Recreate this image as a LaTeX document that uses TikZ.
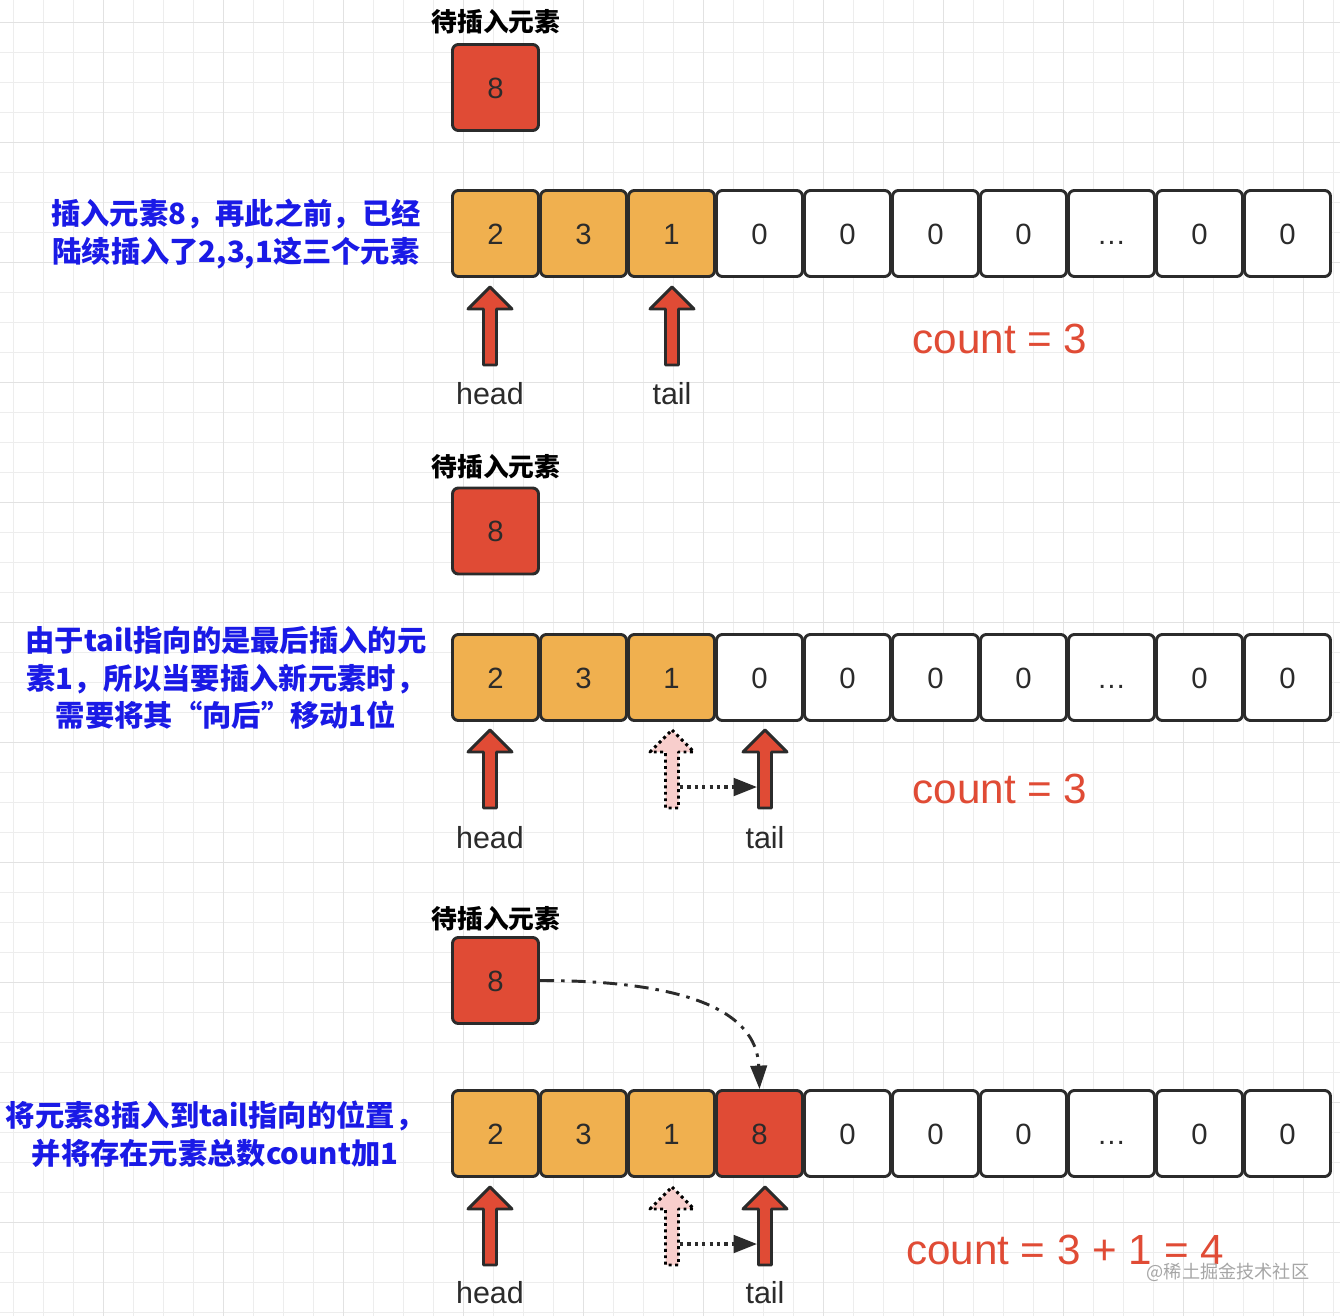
\documentclass[tikz,border=0pt]{standalone}
\usepackage{fontspec}
\setmainfont{Liberation Sans}
\newfontfamily\cjk{Noto Sans CJK SC}
\usetikzlibrary{arrows.meta}
\definecolor{cellred}{HTML}{E04B35}
\definecolor{cellorange}{HTML}{F0B04F}
\definecolor{linedark}{HTML}{2B2B2B}
\definecolor{noteblue}{HTML}{1A1AE6}
\definecolor{ghostpink}{HTML}{F8CECC}
\definecolor{gridgray}{HTML}{EDEDED}
\definecolor{gridmajor}{HTML}{E2E2E2}

\tikzset{
  cell/.style={draw=linedark,line width=2.5pt,rounded corners=5pt,minimum width=2.58cm,
    minimum height=2.58cm,inner sep=0pt,text=linedark,text height=18pt,text depth=0pt,
    font=\fontsize{25}{30}\selectfont},
  used/.style={cell,fill=cellorange},
  hot/.style={cell,fill=cellred},
  free/.style={cell,fill=white},
  tag/.style={font=\cjk\bfseries\fontsize{22}{26}\selectfont,text=black},
  note/.style={align=center,text=noteblue,font=\cjk\bfseries\fontsize{25}{32}\selectfont},
  ptrtxt/.style={text=linedark,font=\fontsize{26}{30}\selectfont},
  cnt/.style={text=cellred,font=\fontsize{36}{42}\selectfont},
  wmark/.style={text=black!35,font=\cjk\fontsize{15.5}{18}\selectfont},
  ptrfill/.style={fill=cellred,draw=linedark},
  ghostfill/.style={fill=ghostpink,draw=black,dash pattern=on 2.5pt off 3pt},
  dotline/.style={line width=2.8pt,draw=linedark,dash pattern=on 2.8pt off 3.5pt,
    -{Triangle[length=20pt,width=15pt]}},
  dashdot/.style={line width=2.5pt,draw=linedark,dash pattern=on 12pt off 6pt on 3pt off 6pt,
    -{Triangle[length=20pt,width=14pt]}},
  ptr/.pic={
    \draw[line width=2.5pt,line join=round,pic actions]
      (0,0) -- (22,22) -- (6.5,22) -- (6.5,78) -- (-6.5,78) -- (-6.5,22) -- (-22,22) -- cycle;
    \coordinate (-r) at (8,57);
    \coordinate (-l) at (-8,57);
  }
}

\begin{document}
\begin{tikzpicture}[x=0.03cm,y=-0.03cm]
  \useasboundingbox (0,0) rectangle (1340,1316);
  \fill[white] (0,0) rectangle (1340,1316);
  % background grid
  \foreach \k in {0,...,44} \draw[gridgray,line width=1pt] ({13.3+30*\k},0) -- ({13.3+30*\k},1316);
  \foreach \k in {0,...,43} \draw[gridgray,line width=1pt] (0,{22.7+30*\k}) -- (1340,{22.7+30*\k});
  \foreach \k in {0,...,10} \draw[gridmajor,line width=1.2pt] ({103.3+120*\k},0) -- ({103.3+120*\k},1316);
  \foreach \k in {0,...,10} \draw[gridmajor,line width=1.2pt] (0,{22.7+120*\k}) -- (1340,{22.7+120*\k});

  % step 1
  \node[tag] (lab1) at (496,22) {待插入元素};
  \node[hot] (new1) at (495.5,87.5) {8};
  \foreach \v/\s [count=\i] in {2/used,3/used,1/used,0/free,0/free,0/free,0/free,\ldots/free,0/free,0/free}
    \node[\s] (r1c\i) at ({495.5+88*(\i-1)},233.5) {\v};
  \node[note] (note1) at (236,234) {插入元素8，再此之前，已经\\陆续插入了2,3,1这三个元素};
  \pic[ptrfill] (head1) at (490,287) {ptr};
  \pic[ptrfill] (tail1) at (672,287) {ptr};
  \node[ptrtxt] (hl1) at (490,394) {head};
  \node[ptrtxt] (tl1) at (672,394) {tail};
  \node[cnt] (cnt1) at (1000,339) {count = 3};

  % step 2
  \node[tag] (lab2) at (496,467) {待插入元素};
  \node[hot] (new2) at (495.5,531) {8};
  \foreach \v/\s [count=\i] in {2/used,3/used,1/used,0/free,0/free,0/free,0/free,\ldots/free,0/free,0/free}
    \node[\s] (r2c\i) at ({495.5+88*(\i-1)},677.5) {\v};
  \node[note] (note2) at (226,678) {由于tail指向的是最后插入的元\\素1，所以当要插入新元素时，\\需要将其“向后”移动1位};
  \pic[ptrfill] (head2) at (490,730) {ptr};
  \pic[ghostfill] (ghost2) at (672,730) {ptr};
  \pic[ptrfill] (tail2) at (765,730) {ptr};
  \draw[dotline] (ghost2-r) -- (tail2-l);
  \node[ptrtxt] (hl2) at (490,838) {head};
  \node[ptrtxt] (tl2) at (765,838) {tail};
  \node[cnt] (cnt2) at (1000,789) {count = 3};

  % step 3
  \node[tag] (lab3) at (496,919) {待插入元素};
  \node[hot] (new3) at (495.5,980.5) {8};
  \foreach \v/\s [count=\i] in {2/used,3/used,1/used,8/hot,0/free,0/free,0/free,\ldots/free,0/free,0/free}
    \node[\s] (r3c\i) at ({495.5+88*(\i-1)},1133.5) {\v};
  \draw[dashdot] (new3.east) to[out=0,in=92] (r3c4.north);
  \node[note] (note3) at (215,1134) {将元素8插入到tail指向的位置，\\并将存在元素总数count加1};
  \pic[ptrfill] (head3) at (490,1187) {ptr};
  \pic[ghostfill] (ghost3) at (672,1187) {ptr};
  \pic[ptrfill] (tail3) at (765,1187) {ptr};
  \draw[dotline] (ghost3-r) -- (tail3-l);
  \node[ptrtxt] (hl3) at (490,1293) {head};
  \node[ptrtxt] (tl3) at (765,1293) {tail};
  \node[cnt] (cnt3) at (1065,1250) {count = 3 + 1 = 4};
  \node[wmark] (wm) at (1228,1272) {@稀土掘金技术社区};
\end{tikzpicture}
\end{document}
